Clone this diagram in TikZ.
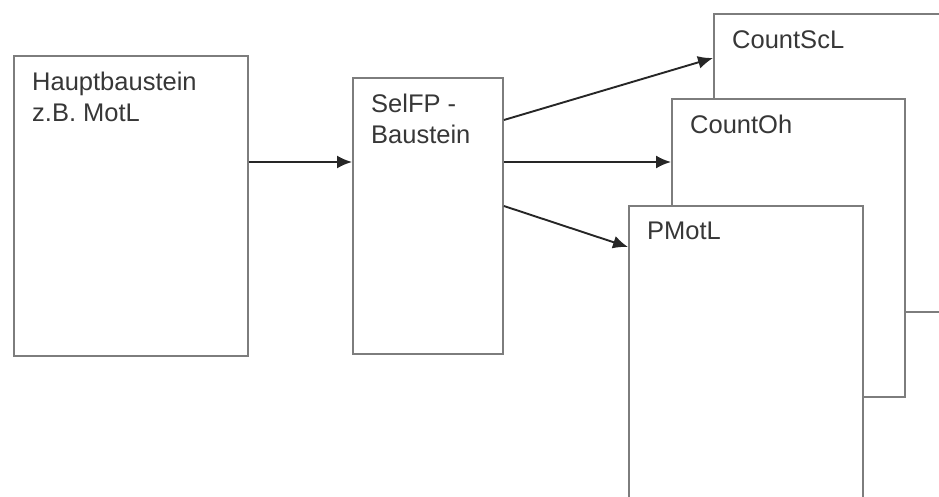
\documentclass[tikz,border=0pt]{standalone}
\usepackage{fontspec}
\setmainfont{Liberation Sans}
\usetikzlibrary{arrows.meta,positioning}
\definecolor{boxgray}{RGB}{125,125,125}
\definecolor{txtgray}{RGB}{55,55,55}
\tikzset{font=\fontsize{25.5}{31}\selectfont}
\tikzset{baustein/.style={draw=boxgray, line width=1.9pt, fill=white,
    anchor=north west, minimum width=234pt, minimum height=298pt,
    inner sep=0pt}}
\tikzset{titel/.style={anchor=north west, align=left, inner sep=0pt,
    text=txtgray, xshift=19pt, yshift=-17pt}}
\tikzset{pfeil/.style={draw=black!85, line width=1.9pt,
    -{Latex[length=15pt,width=13pt]}}}

\begin{document}
\begin{tikzpicture}[x=1pt,y=-1pt]
  \useasboundingbox (0,0) rectangle (939,497);
  \clip (0,0) rectangle (939,497);

  \node[baustein, minimum height=300pt] (haupt) at (13,55) {};
  \node[titel] at (haupt.north west) {Hauptbaustein\\z.B. MotL};

  \node[baustein, minimum width=150pt, minimum height=276pt] (selfp) at (352,77) {};
  \node[titel] at (selfp.north west) {SelFP -\\Baustein};

  % hintere Bausteine zuerst, die vorderen decken sie ab
  \node[baustein] (countscl) at (713,13) {};
  \node[titel] at (countscl.north west) {CountScL};

  \node[baustein, minimum width=233pt] (countoh) at (671,98) {};
  \node[titel] at (countoh.north west) {CountOh};

  \node[baustein] (pmotl) at (628,205) {};
  \node[titel] at (pmotl.north west) {PMotL};

  \draw[pfeil] ([yshift=-107pt]haupt.north east) -- ([yshift=-85pt]selfp.north west);

  \draw[pfeil] ([yshift=-43pt]selfp.north east) -- ([yshift=-45pt]countscl.north west);
  \draw[pfeil] ([yshift=-85pt]selfp.north east) -- ([yshift=-64pt]countoh.north west);
  \draw[pfeil] ([yshift=-129pt]selfp.north east) -- ([yshift=-42pt]pmotl.north west);

\end{tikzpicture}
\end{document}
